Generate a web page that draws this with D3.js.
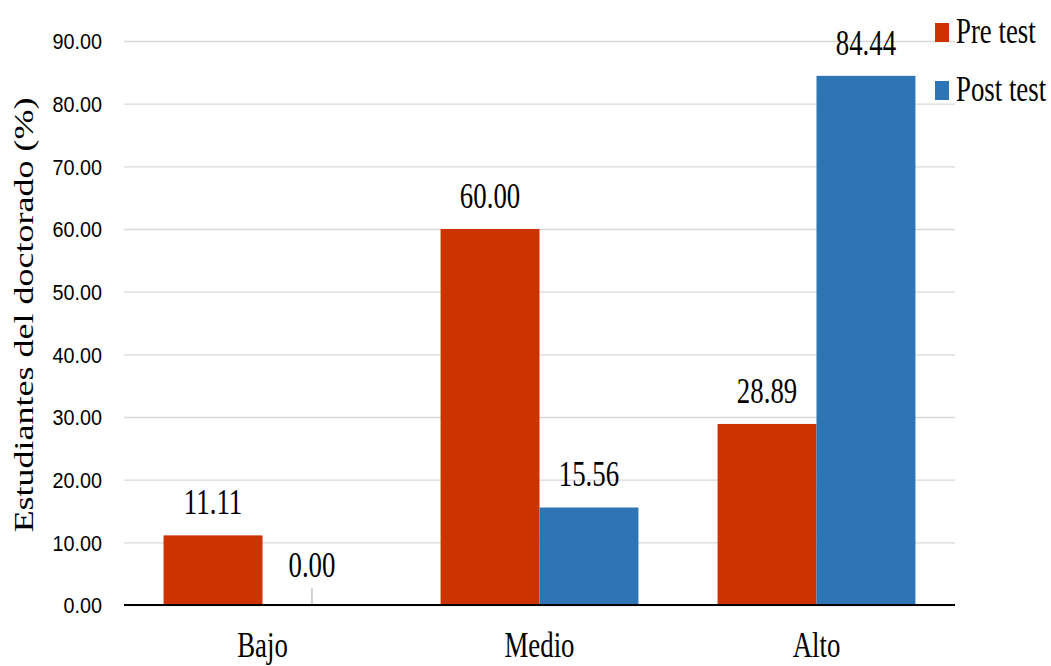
<!DOCTYPE html>
<html>
<head>
<meta charset="utf-8">
<script src="https://cdn.jsdelivr.net/npm/d3@7"></script>
<style>
  html, body { margin: 0; padding: 0; background: #fff; }
  svg { display: block; }
  .serif { font-family: 'Liberation Serif', 'Times New Roman', serif; font-size: 36px; fill: #000; }
</style>
</head>
<body>
<div id="chart"></div>
<script>
'use strict';

const categories = ['Bajo', 'Medio', 'Alto'];
const seriesNames = ['Pre test', 'Post test'];
const preTest = [11.11, 60.00, 28.89];
const postTest = [0.00, 15.56, 84.44];
const yTicks = [0, 10, 20, 30, 40, 50, 60, 70, 80, 90];
const yTitle = 'Estudiantes del doctorado (%)';

const colors = ['#CC3300', '#2E75B6'];

const initBarChart = (element) => {
  const W = 1051;
  const H = 666;
  const margin = { top: 41, left: 124, right: 96, bottom: 61 };
  const width = W - margin.left - margin.right;
  const height = H - margin.top - margin.bottom;
  const squeeze = 0.745; // horizontally narrowed serif text
  const tickSqueeze = 0.9;

  const data = categories.map((c, i) => ({
    category: c,
    values: [preTest[i], postTest[i]],
  }));

  const svg = d3
    .select(element)
    .append('svg')
    .attr('width', W)
    .attr('height', H);

  const chart = svg
    .append('g')
    .attr('transform', `translate(${margin.left}, ${margin.top})`);

  const x0 = d3
    .scaleBand()
    .domain(categories)
    .range([0, width])
    .padding(0);

  const x1 = d3
    .scaleBand()
    .domain(seriesNames)
    .range([0, x0.bandwidth()])
    .paddingInner(0)
    .paddingOuter(0.4);

  const y = d3
    .scaleLinear()
    .domain([0, 90])
    .range([height, 0]);

  // grid + y tick labels
  const yAxis = chart
    .append('g')
    .call(
      d3.axisLeft(y)
        .tickValues(yTicks)
        .tickSize(-width)
        .tickFormat(d3.format('.2f')),
    );
  yAxis.select('.domain').remove();
  yAxis.selectAll('.tick line')
    .attr('stroke', '#d9d9d9')
    .attr('stroke-width', 1.3);
  yAxis.selectAll('.tick text')
    .attr('font-family', "'Liberation Sans', Arial, sans-serif")
    .attr('font-size', 22)
    .attr('fill', '#000')
    .attr('x', 0)
    .attr('dy', '0.36em')
    .attr('transform', `translate(-22, 0) scale(${tickSqueeze}, 1)`);

  // bars
  const groups = chart
    .selectAll('.group')
    .data(data)
    .enter()
    .append('g')
    .attr('class', 'group')
    .attr('transform', d => `translate(${x0(d.category)}, 0)`);

  const items = groups
    .selectAll('.item')
    .data(d => d.values.map((v, j) => ({ series: seriesNames[j], value: v, idx: j })))
    .enter()
    .append('g')
    .attr('class', 'item');

  items
    .append('rect')
    .attr('x', d => x1(d.series))
    .attr('y', d => y(d.value))
    .attr('width', x1.bandwidth())
    .attr('height', d => height - y(d.value))
    .attr('fill', d => colors[d.idx]);

  // leader line for zero-value labels
  items
    .filter(d => d.value === 0)
    .append('line')
    .attr('x1', d => x1(d.series) + x1.bandwidth() / 2)
    .attr('x2', d => x1(d.series) + x1.bandwidth() / 2)
    .attr('y1', y(0) - 1)
    .attr('y2', y(0) - 17)
    .attr('stroke', '#a6a6a6')
    .attr('stroke-width', 1);

  items
    .append('text')
    .attr('class', 'serif')
    .attr('text-anchor', 'middle')
    .attr('transform', d => {
      const cx = x1(d.series) + x1.bandwidth() / 2;
      const cy = y(d.value) - (d.value === 0 ? 28 : 21);
      return `translate(${cx}, ${cy}) scale(${squeeze}, 1)`;
    })
    .text(d => d3.format('.2f')(d.value));

  // x axis baseline + category labels
  const xAxis = chart
    .append('g')
    .attr('transform', `translate(0, ${height})`)
    .call(d3.axisBottom(x0).tickSize(0));
  xAxis.select('.domain').remove();
  xAxis.selectAll('.tick text')
    .attr('class', 'serif')
    .attr('font-size', null)
    .attr('font-family', null)
    .attr('fill', null)
    .attr('y', 52)
    .attr('dy', null)
    .attr('transform', `scale(${squeeze}, 1)`);

  chart
    .append('line')
    .attr('x1', 0)
    .attr('x2', width)
    .attr('y1', height)
    .attr('y2', height)
    .attr('stroke', '#000')
    .attr('stroke-width', 2);

  // y title
  svg
    .append('text')
    .attr('class', 'serif')
    .attr('text-anchor', 'middle')
    .attr('transform', `translate(33, 315) rotate(-90) scale(1, ${squeeze})`)
    .text(yTitle);

  // legend
  const legend = svg
    .selectAll('.legend')
    .data(seriesNames)
    .enter()
    .append('g')
    .attr('class', 'legend')
    .attr('transform', (d, i) => `translate(935, ${23 + i * 58})`);

  legend
    .append('rect')
    .attr('width', 14)
    .attr('height', 19)
    .attr('fill', (d, i) => colors[i]);

  legend
    .append('text')
    .attr('class', 'serif')
    .attr('transform', `translate(21, 20) scale(${squeeze}, 1)`)
    .text(d => d);
};

initBarChart(document.getElementById('chart'));
</script>
</body>
</html>
